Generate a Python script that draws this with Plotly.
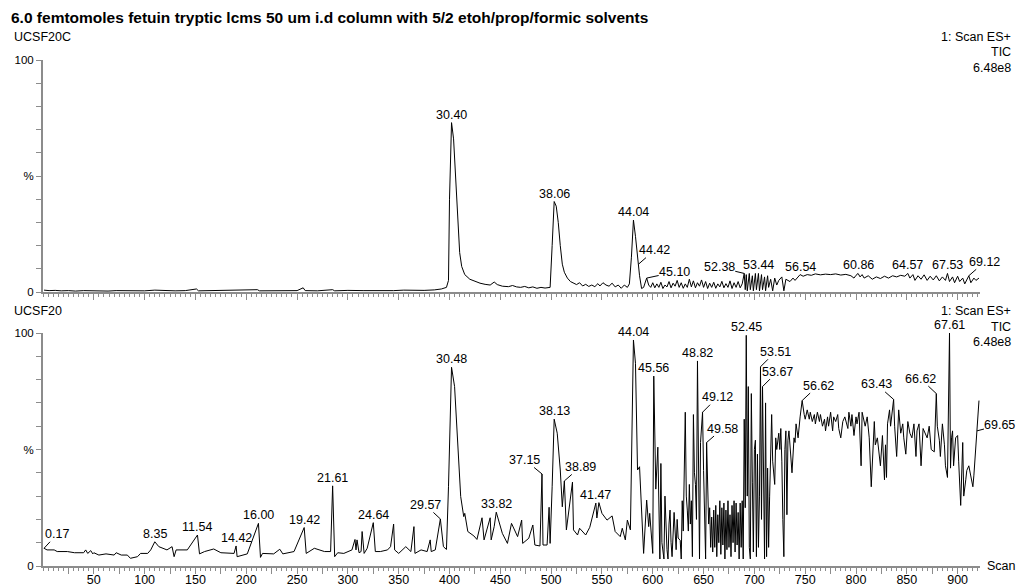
import plotly.graph_objects as go

# ---------------- data ----------------
TITLE = "6.0 femtomoles fetuin tryptic lcms 50 um i.d column with 5/2 etoh/prop/formic solvents"
TOP_NAME = "UCSF20C"
BOTTOM_NAME = "UCSF20"
SCAN_INFO = ["1: Scan ES+", "TIC", "6.48e8"]
X_TITLE = "Scan"

# top chromatogram (scan, % intensity)
TOP_TRACE = [
    (1, 0.8), (6, 0.6), (12, 0.7), (18, 0.5), (25, 0.6), (32, 0.4), (40, 0.6), (48, 0.5),
    (56, 0.7), (64, 0.4), (72, 0.6), (80, 0.5), (90, 0.6), (100, 0.5), (110, 0.8), (120, 0.6),
    (130, 0.5), (140, 0.6), (151, 1.3), (153, 0.5), (165, 0.6), (180, 0.5), (195, 0.6),
    (211, 1.0), (213, 0.5), (225, 0.6), (240, 0.5), (250, 0.6), (256, 1.8), (258, 0.6),
    (270, 0.5), (285, 1.0), (287, 0.5), (300, 0.7), (315, 0.6), (330, 0.5), (345, 0.6),
    (355, 0.8), (365, 0.6), (375, 0.7), (385, 0.9), (392, 1.3), (397, 2.0), (399, 5.0),
    (400, 40), (402, 73), (404, 66), (406, 50), (408, 30), (410, 17), (412, 11), (415, 7.5),
    (420, 5.5), (425, 4.5), (430, 3.8), (435, 3.3), (440, 3.0), (444, 4.3), (447, 3.2),
    (452, 2.5), (458, 2.3), (462, 2.8), (466, 2.2), (470, 2.0), (474, 2.4), (478, 1.8),
    (482, 2.2), (486, 1.6), (490, 2.0), (494, 1.7), (499, 2.0), (501, 20), (503, 39),
    (505, 37), (507, 30), (509, 20), (511, 12), (513, 8.5), (516, 6.0), (519, 4.5), (522, 4.0),
    (525, 3.2), (528, 4.0), (531, 2.6), (534, 3.3), (537, 2.4), (540, 3.0), (543, 2.3),
    (546, 3.6), (548, 2.6), (551, 4.0), (554, 3.0), (557, 2.5), (560, 3.8), (563, 2.2),
    (566, 3.0), (569, 1.6), (572, 3.0), (575, 2.0), (577, 3.5), (579, 15), (581, 31),
    (583, 24), (585, 14), (586, 12), (587, 7), (589, 1.5), (591, 2.0), (594, 6.0), (596, 3.0),
    (598, 2.0), (600, 4.0), (602, 1.8), (604, 3.5), (606, 2.0), (608, 4.2), (610, 1.5),
    (612, 3.0), (614, 2.2), (616, 4.5), (618, 1.8), (620, 3.8), (622, 2.5), (624, 5.0),
    (626, 2.0), (628, 4.0), (630, 1.6), (632, 3.5), (634, 2.0), (636, 5.5), (638, 2.2),
    (640, 4.8), (642, 1.8), (644, 4.0), (646, 2.5), (648, 5.2), (650, 2.0), (652, 4.5),
    (654, 1.5), (656, 3.8), (658, 2.0), (660, 4.2), (662, 1.6), (664, 3.5), (666, 2.2),
    (668, 4.6), (670, 1.8), (672, 3.6), (674, 2.0), (676, 4.8), (678, 1.5), (680, 4.0),
    (682, 2.0), (684, 4.5), (686, 1.8), (688, 3.5), (690, 8.0), (691, 1.0), (692, 7.5),
    (693, 0.5), (695, 8.0), (696, 1.0), (698, 7.0), (699, 0.5), (701, 8.0), (702, 1.0),
    (704, 8.0), (705, 0.5), (707, 7.5), (708, 1.0), (710, 6.5), (711, 0.5), (713, 7.0),
    (714, 2.0), (716, 5.5), (718, 0.5), (720, 6.0), (722, 3.0), (724, 5.0), (727, 6.5),
    (729, 0.5), (731, 5.5), (735, 4.5), (738, 6.0), (740, 5.0), (743, 6.5), (745, 7.5),
    (748, 6.8), (752, 7.5), (756, 7.2), (760, 7.8), (765, 7.4), (770, 7.7), (775, 7.5),
    (780, 7.8), (785, 7.3), (790, 7.6), (795, 7.0), (798, 6.0), (800, 7.2), (802, 8.0),
    (804, 6.5), (806, 7.5), (808, 6.0), (812, 7.0), (816, 5.5), (820, 6.5), (824, 5.8),
    (828, 6.8), (832, 6.0), (836, 7.0), (840, 6.5), (844, 7.2), (848, 6.8), (851, 8.0),
    (853, 6.0), (856, 7.5), (858, 5.0), (861, 7.0), (864, 5.5), (867, 7.4), (870, 5.0),
    (873, 6.8), (876, 5.2), (879, 7.0), (882, 4.8), (885, 6.5), (888, 5.0), (890, 8.0),
    (892, 4.5), (895, 6.5), (897, 4.0), (900, 6.8), (902, 4.5), (905, 6.0), (907, 3.5),
    (909, 5.5), (911, 7.0), (913, 4.0), (916, 6.0), (918, 5.0), (921, 6.0),
]

# bottom chromatogram (scan, % intensity)
BOTTOM_TRACE = [
    (1, 7.6), (4, 6.9), (11, 6.9), (14, 6.2), (24, 6.2), (31, 5.7), (40, 5.7), (42, 6.9),
    (44, 5.4), (47, 6.6), (49, 5.2), (50, 5.7), (55, 4.7), (62, 5.2), (70, 4.7), (72, 5.7),
    (77, 4.7), (83, 4.7), (86, 3.3), (93, 4.0), (96, 5.4), (103, 5.4), (106, 6.9), (110, 10.4),
    (114, 8.3), (119, 7.6), (122, 6.9), (127, 8.3), (129, 4.0), (131, 6.9), (142, 6.9),
    (152, 13.3), (154, 5.2), (159, 6.2), (168, 7.3), (175, 5.7), (188, 5.4), (190, 8.6),
    (191, 4.0), (201, 5.2), (212, 18.3), (214, 3.7), (216, 5.4), (227, 5.2), (233, 7.2),
    (236, 5.2), (247, 6.2), (257, 16.5), (259, 5.4), (267, 7.6), (277, 6.2), (283, 6.2),
    (285, 34.4), (287, 4.0), (290, 5.7), (296, 5.4), (304, 6.9), (307, 11.4), (308, 6.9),
    (309, 11.2), (311, 5.7), (313, 6.2), (314, 14.8), (316, 5.4), (319, 7.6), (325, 18.6),
    (327, 6.2), (332, 6.2), (339, 6.9), (342, 8.3), (345, 18.0), (346, 6.9), (350, 5.4),
    (357, 8.3), (362, 6.2), (365, 16.9), (366, 5.4), (372, 6.9), (378, 6.2), (381, 11.2),
    (382, 6.2), (386, 6.9), (391, 20.2), (394, 8.3), (397, 7.1), (399, 34), (402, 85.3),
    (405, 77), (408, 54), (411, 29.8), (414, 21.2), (415, 22.6), (418, 14.8), (424, 12.9),
    (427, 11.4), (432, 20.7), (434, 11.2), (440, 20.7), (441, 11.2), (444, 17), (446, 23.1),
    (452, 14.0), (457, 9.7), (461, 18.3), (467, 12.6), (471, 19.7), (472, 9.7), (478, 11.9),
    (482, 17.6), (484, 9.0), (489, 8.6), (491, 39.5), (492, 9.0), (496, 9.0), (498, 25.2),
    (499, 9.7), (501, 34), (503, 63), (506, 57), (509, 41.2), (511, 25.4), (513, 36.5),
    (515, 15.5), (521, 36), (522, 15.5), (526, 13.3), (528, 16.2), (534, 13.3), (538, 16.6),
    (544, 27), (545, 20.6), (547, 27.2), (550, 22.6), (555, 19.7), (560, 21.5), (563, 14.8),
    (568, 12.6), (570, 16.2), (573, 11.2), (575, 19.7), (578, 15.5), (579, 41), (581, 97),
    (583, 87), (585, 41.2), (587, 42.6), (590, 14.1), (591, 5.4), (594, 28.3), (596, 16.9),
    (597, 22.6), (600, 5.4), (601, 81.5), (603, 33), (605, 51), (606, 30), (607, 3), (608, 44),
    (609, 10), (611, 3), (612, 30), (614, 7), (615, 3), (616, 18), (617, 24), (618, 10),
    (619, 4), (621, 23), (622, 12), (623, 7), (624, 20), (625, 12), (627, 11), (628, 3),
    (629, 28), (630, 15), (632, 66), (633, 30), (634, 24), (635, 15), (636, 35), (637, 18),
    (638, 28), (639, 4), (640, 65), (641, 40), (642, 35), (643, 20), (644, 88), (645, 40),
    (646, 3), (647, 53), (648, 60), (649, 66), (650, 41), (651, 25), (652, 3), (653, 53),
    (654, 40), (655, 18), (656, 25), (657, 8), (658, 21), (659, 6), (660, 24), (661, 8),
    (662, 26), (663, 4), (664, 22), (665, 10), (666, 28), (667, 5), (668, 25), (669, 9),
    (670, 27), (671, 3), (672, 24), (673, 7), (674, 28), (675, 8), (676, 22), (677, 4),
    (678, 26), (679, 10), (680, 28), (681, 6), (682, 27), (683, 9), (684, 23), (685, 3),
    (686, 27), (687, 8), (688, 28), (689, 3), (690, 63), (691, 25), (692, 99), (693, 30),
    (694, 77), (695, 8), (696, 3), (697, 74), (698, 36), (699, 6), (700, 50), (701, 54),
    (702, 4), (703, 48), (704, 8), (705, 30), (706, 85.5), (707, 20), (708, 77), (709, 42),
    (710, 3), (711, 70), (712, 4), (713, 42), (714, 8), (715, 30), (716, 48), (717, 65),
    (718, 45), (720, 35), (721, 55), (722, 50), (724, 57), (725, 50), (726, 59), (727, 45),
    (728, 20), (729, 4), (730, 50), (731, 58), (732, 22), (733, 54), (734, 58), (736, 44),
    (737, 40), (739, 55), (740, 53), (741, 61), (743, 55), (745, 64), (747, 71), (749, 65),
    (750, 63), (752, 67), (754, 63), (755, 66), (757, 62), (759, 65), (760, 61), (762, 66),
    (764, 62), (765, 65), (767, 60), (769, 63), (770, 58), (772, 64), (773, 60), (775, 66),
    (777, 58), (778, 64), (780, 62), (782, 65), (783, 59), (785, 55), (787, 62), (789, 64),
    (792, 59), (793, 66), (795, 60), (796, 65), (798, 56), (800, 64), (801, 61), (803, 66),
    (805, 43), (806, 66), (809, 60), (811, 64), (813, 55), (815, 34), (818, 62), (819, 52),
    (821, 55), (824, 43), (826, 56), (828, 37), (829, 52), (830, 38), (831, 61), (833, 67),
    (834, 60), (837, 71.5), (838, 60), (840, 47), (842, 67), (844, 57), (846, 61), (847, 55),
    (849, 48), (851, 62), (853, 57), (855, 55), (857, 61), (859, 47), (860, 58), (862, 61),
    (864, 43), (866, 59), (869, 56), (870, 55), (872, 60), (874, 50), (877, 49), (879, 74),
    (880, 60), (882, 54), (883, 47), (885, 61), (887, 52), (888, 43), (890, 38), (892, 100),
    (893, 42), (894, 55), (895, 58), (896, 43), (898, 55), (900, 56), (901, 45), (903, 26),
    (905, 53), (906, 30), (908, 37), (909, 41), (911, 43), (913, 38), (915, 34), (916, 39),
    (918, 52), (919, 58), (921, 71),
]

# peak labels (retention time text, scan of the marked point)
TOP_PEAK_TEXT = ["30.40", "38.06", "44.04", "44.42", "45.10", "52.38", "53.44", "56.54",
                 "60.86", "64.57", "67.53", "69.12"]
TOP_PEAK_SCAN = [402, 503, 581, 586, 594, 690, 704, 745, 802, 851, 890, 911]
BOTTOM_PEAK_TEXT = ["0.17", "8.35", "11.54", "14.42", "16.00", "19.42", "21.61", "24.64",
                    "29.57", "30.48", "33.82", "37.15", "38.13", "38.89", "41.47", "44.04",
                    "45.56", "48.82", "49.12", "49.58", "52.45", "53.51", "53.67", "56.62",
                    "63.43", "66.62", "67.61", "69.65"]
BOTTOM_PEAK_SCAN = [1, 110, 152, 190, 212, 257, 285, 325, 391, 402, 446, 491, 503, 513, 544,
                    581, 601, 644, 649, 653, 692, 706, 708, 747, 837, 879, 892, 919]

X_LABELS = [50, 100, 150, 200, 250, 300, 350, 400, 450, 500, 550, 600, 650, 700, 750, 800,
            850, 900]
Y_TICKS = [0, 50, 100]
Y_TICK_TEXT = ["0", "%", "100"]

# ---------------- style ----------------
FONT = "Liberation Sans, Arial, Helvetica, sans-serif"
AXIS_GREY = "#8c8c8c"
W, H = 1019, 586
L, R, T, B = 43, 39, 60, 20
PLOT_W = W - L - R
PLOT_H = H - T - B
TOP_PANEL_PX = (60, 292)      # 100% and 0% pixel rows
BOTTOM_PANEL_PX = (333, 566)

# leader-line offsets (label centre relative to the marked point, pixels)
LEADERS = {
    ("top", "44.42"): (16, -14), ("top", "45.10"): (28, -6), ("top", "52.38"): (-25, -6),
    ("top", "69.12"): (16, -14),
    ("bot", "0.17"): (13, -14), ("bot", "29.57"): (-15, -14), ("bot", "37.15"): (-17, -14),
    ("bot", "38.89"): (16, -14), ("bot", "49.12"): (15, -15), ("bot", "49.58"): (16, -14),
    ("bot", "53.51"): (15, -15), ("bot", "53.67"): (15, -15), ("bot", "56.62"): (16, -15),
    ("bot", "63.43"): (-17, -15), ("bot", "66.62"): (-16, -15), ("bot", "69.65"): (23, -6),
}


def px_x(px):
    return (px - L) / PLOT_W


def px_y(py):
    return (H - B - py) / PLOT_H


top_scan = [s for s, _ in TOP_TRACE]
top_pct = [v for _, v in TOP_TRACE]
bot_scan = [s for s, _ in BOTTOM_TRACE]
bot_pct = [v for _, v in BOTTOM_TRACE]

fig = go.Figure()
fig.add_trace(go.Scatter(x=top_scan, y=top_pct, mode="lines", xaxis="x", yaxis="y",
                         line=dict(color="black", width=1), hoverinfo="skip"))
fig.add_trace(go.Scatter(x=bot_scan, y=bot_pct, mode="lines", xaxis="x2", yaxis="y2",
                         line=dict(color="black", width=1), hoverinfo="skip"))

annotations = []
label_font = dict(family=FONT, size=12.5, color="black")


def add_peak_labels(texts, scans, lookup, xref, yref, key):
    for t, s in zip(texts, scans):
        yv = lookup[s]
        off = LEADERS.get((key, t))
        if off:
            annotations.append(dict(x=s, y=yv, xref=xref, yref=yref, text=t, showarrow=True,
                                    arrowhead=0, arrowwidth=1, arrowcolor="black",
                                    ax=off[0], ay=off[1], standoff=0, font=label_font,
                                    borderpad=0))
        else:
            annotations.append(dict(x=s, y=yv, xref=xref, yref=yref, text=t, showarrow=False,
                                    yanchor="bottom", xanchor="center", yshift=0,
                                    font=label_font, borderpad=0))


add_peak_labels(TOP_PEAK_TEXT, TOP_PEAK_SCAN, dict(TOP_TRACE), "x", "y", "top")
add_peak_labels(BOTTOM_PEAK_TEXT, BOTTOM_PEAK_SCAN, dict(BOTTOM_TRACE), "x2", "y2", "bot")

# header texts
annotations.append(dict(x=px_x(9), y=px_y(17), xref="paper", yref="paper", text="<b>" + TITLE + "</b>",
                        showarrow=False, xanchor="left", yanchor="middle",
                        font=dict(family=FONT, size=15.5, color="black")))
for name, row in ((TOP_NAME, 37), (BOTTOM_NAME, 311)):
    annotations.append(dict(x=px_x(12), y=px_y(row), xref="paper", yref="paper", text=name,
                            showarrow=False, xanchor="left", yanchor="middle",
                            font=dict(family=FONT, size=12.5, color="black")))
for base in (37, 311):
    for i, txt in enumerate(SCAN_INFO):
        annotations.append(dict(x=px_x(1013), y=px_y(base + 15.5 * i), xref="paper", yref="paper",
                                text=txt, showarrow=False, xanchor="right", yanchor="middle",
                                font=dict(family=FONT, size=12.5, color="black")))
annotations.append(dict(x=px_x(985), y=px_y(566), xref="paper", yref="paper", text=X_TITLE,
                        showarrow=False, xanchor="left", yanchor="middle",
                        font=dict(family=FONT, size=12.5, color="black")))

major = [v for v in range(25, 925, 25)]
major_text = [str(v) if v in X_LABELS else "" for v in major]

xcommon = dict(range=[0, 922], showgrid=False, zeroline=False, showline=True,
               linecolor=AXIS_GREY, linewidth=2, ticks="outside", ticklen=6, tickwidth=1,
               tickcolor=AXIS_GREY, tickmode="array", tickvals=major,
               minor=dict(dtick=5, tick0=0, ticks="outside", ticklen=3, tickwidth=1,
                          tickcolor=AXIS_GREY, showgrid=False),
               tickfont=dict(family=FONT, size=12.5, color="black"))
ycommon = dict(range=[0, 100], showgrid=False, zeroline=False, showline=True,
               linecolor=AXIS_GREY, linewidth=2, ticks="outside", ticklen=5, tickwidth=1,
               tickcolor=AXIS_GREY, tickmode="array", tickvals=Y_TICKS, ticktext=Y_TICK_TEXT,
               minor=dict(dtick=10, tick0=0, ticks="outside", ticklen=5, tickwidth=1,
                          tickcolor=AXIS_GREY, showgrid=False),
               tickfont=dict(family=FONT, size=11.5, color="black"))

top_dom = [px_y(TOP_PANEL_PX[1]), px_y(TOP_PANEL_PX[0])]
bot_dom = [px_y(BOTTOM_PANEL_PX[1]), px_y(BOTTOM_PANEL_PX[0])]

fig.update_layout(
    width=W, height=H, margin=dict(l=L, r=R, t=T, b=B, autoexpand=False),
    paper_bgcolor="white", plot_bgcolor="white", showlegend=False,
    xaxis=dict(xcommon, anchor="y", showticklabels=False, ticktext=major_text),
    yaxis=dict(ycommon, domain=top_dom, anchor="x"),
    xaxis2=dict(xcommon, anchor="y2", ticktext=major_text, ticklabelstandoff=-5),
    yaxis2=dict(ycommon, domain=bot_dom, anchor="x2"),
    annotations=annotations,
    font=dict(family=FONT, color="black"),
)

fig.write_html(
    "out.html",
    config={"displayModeBar": False},
    post_script="document.body.style.margin='0';document.body.style.padding='0';"
                "document.body.style.overflow='hidden';",
)
